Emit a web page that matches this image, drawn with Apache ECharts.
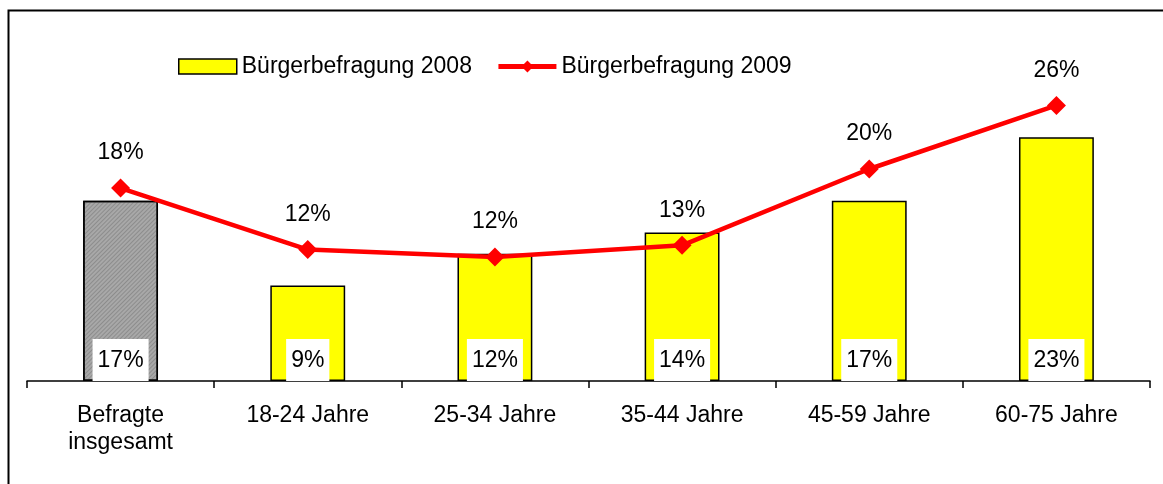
<!DOCTYPE html>
<html>
<head>
<meta charset="utf-8">
<script src="https://cdn.jsdelivr.net/npm/echarts@6/dist/echarts.min.js"></script>
<style>
  html, body { margin: 0; padding: 0; background: #fff; }
  #chart { width: 1163px; height: 484px; }
</style>
</head>
<body>
<div id="chart"></div>
<script>
// Kategorien und Werte
var categories = ['Befragte\ninsgesamt', '18-24 Jahre', '25-34 Jahre', '35-44 Jahre', '45-59 Jahre', '60-75 Jahre'];
var values2008 = [17, 9, 12, 14, 17, 23];
var values2009 = [18.2, 12.4, 11.7, 12.8, 20, 26];
var seriesNames = ['Bürgerbefragung 2008', 'Bürgerbefragung 2009'];

var chart = echarts.init(document.getElementById('chart'));

// erster Balken grau schraffiert
var barData = values2008.map(function (v, i) {
  if (i === 0) {
    return {
      value: v,
      itemStyle: {
        color: '#a8a8a8',
        decal: {
          symbol: 'rect',
          dashArrayX: [1, 0],
          dashArrayY: [1, 2],
          rotation: -Math.PI / 4,
          color: 'rgba(90,90,90,0.35)'
        }
      }
    };
  }
  return v;
});

var option = {
  animation: false,
  textStyle: { fontFamily: 'Liberation Sans, Arial, sans-serif', color: '#000' },
  graphic: [
    {
      type: 'rect',
      shape: { x: 8.5, y: 10.5, width: 1170, height: 490 },
      style: { fill: 'none', stroke: '#000', lineWidth: 2 },
      silent: true
    }
  ],
  legend: {
    left: 173,
    top: 50,
    itemWidth: 58,
    itemHeight: 15,
    itemGap: 24,
    textStyle: { fontSize: 23, color: '#000' },
    data: [
      {
        name: seriesNames[0],
        icon: 'rect',
        itemStyle: { color: '#ffff00', borderColor: '#000', borderWidth: 1.5 }
      },
      {
        name: seriesNames[1],
        lineStyle: { width: 5, color: '#ff0000' }
      }
    ]
  },
  grid: {
    left: 27,
    right: 13,
    top: 63,
    bottom: 103
  },
  xAxis: {
    type: 'category',
    data: categories,
    axisLine: { lineStyle: { color: '#000', width: 1.5 } },
    axisTick: { show: true, length: 7, lineStyle: { color: '#000', width: 1.5 } },
    axisLabel: { fontSize: 23, color: '#000', margin: 21, lineHeight: 27 }
  },
  yAxis: {
    type: 'value',
    min: 0,
    max: 30,
    show: false,
    splitLine: { show: false }
  },
  series: [
    {
      name: seriesNames[0],
      type: 'bar',
      barWidth: '40%',
      data: barData,
      itemStyle: { color: '#ffff00', borderColor: '#000', borderWidth: 1.5 },
      label: {
        show: true,
        position: 'insideBottom',
        distance: 0,
        formatter: '{c}%',
        fontSize: 23,
        color: '#000',
        backgroundColor: '#fff',
        padding: [10, 5, 9, 5]
      },
      z: 2
    },
    {
      name: seriesNames[1],
      type: 'line',
      data: values2009,
      symbol: 'diamond',
      symbolSize: 19,
      lineStyle: { color: '#ff0000', width: 4.5 },
      itemStyle: { color: '#ff0000' },
      label: {
        show: true,
        position: 'top',
        distance: 14,
        fontSize: 23,
        color: '#000',
        formatter: function (p) { return Math.round(p.value) + '%'; }
      },
      z: 3
    }
  ]
};

chart.setOption(option);
</script>
</body>
</html>
